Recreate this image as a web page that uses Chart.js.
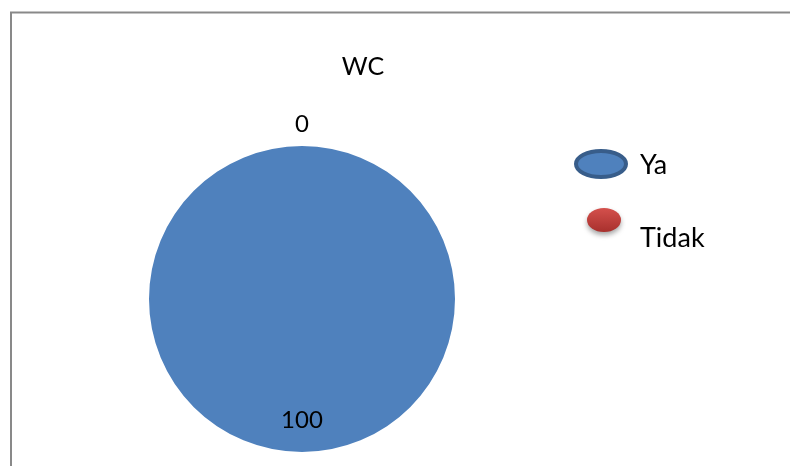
<!DOCTYPE html>
<html><head><meta charset="utf-8">
<script src="https://cdn.jsdelivr.net/npm/chart.js@4/dist/chart.umd.min.js"></script>
<style>html,body{margin:0;padding:0;background:#fff;overflow:hidden}#wrap{position:relative;width:790px;height:466px}</style>
</head><body><div id="wrap"><canvas id="c" width="790" height="466"></canvas></div>
<script>
const chartTitle = "WC";
const categories = ["Ya", "Tidak"];
const values = [100, 0];
const colors = ["#4F81BD", "#C0504D"];
const borderColors = ["#385D8A", "#8C3836"];
const FONT = "Lato, 'Open Sans', sans-serif";

const decor = {
  id: 'decor',
  beforeDraw(chart) {
    const ctx = chart.ctx;
    ctx.save();
    ctx.strokeStyle = '#898989';
    ctx.lineWidth = 2;
    ctx.beginPath();
    ctx.moveTo(11, 470); ctx.lineTo(11, 12.5); ctx.lineTo(800, 12.5);
    ctx.stroke();
    ctx.restore();
  },
  afterDraw(chart) {
    const ctx = chart.ctx;
    const meta = chart.getDatasetMeta(0);
    ctx.save();
    // title
    ctx.fillStyle = '#000';
    ctx.font = '25px ' + FONT;
    ctx.textAlign = 'center'; ctx.textBaseline = 'middle';
    ctx.fillText(chartTitle, 363, 67);
    // data labels
    ctx.font = '24px ' + FONT;
    meta.data.forEach((arc, i) => {
      const p = arc.getProps(['x','y','startAngle','endAngle','outerRadius'], true);
      const mid = (p.startAngle + p.endAngle) / 2;
      const r = values[i] === 0 ? p.outerRadius + 22 : p.outerRadius * 0.79;
      ctx.fillText(String(values[i]), p.x + Math.cos(mid) * r, p.y + Math.sin(mid) * r);
    });
    // legend
    const items = [{cx:601, cy:164, rx:25, ry:13, y:165}, {cx:604, cy:220, rx:17, ry:12, y:238}];
    categories.forEach((name, i) => {
      const it = items[i];
      ctx.save();
      if (i === 0) {
        ctx.fillStyle = colors[0];
        ctx.strokeStyle = borderColors[0];
        ctx.lineWidth = 4;
        ctx.beginPath(); ctx.ellipse(it.cx, it.cy, it.rx, it.ry, 0, 0, Math.PI*2);
        ctx.fill(); ctx.stroke();
      } else {
        ctx.shadowColor = 'rgba(0,0,0,0.35)';
        ctx.shadowBlur = 5; ctx.shadowOffsetY = 3;
        const g = ctx.createLinearGradient(0, it.cy - it.ry, 0, it.cy + it.ry);
        g.addColorStop(0, '#D4504C'); g.addColorStop(1, '#A8302D');
        ctx.fillStyle = g;
        ctx.beginPath(); ctx.ellipse(it.cx, it.cy, it.rx, it.ry, 0, 0, Math.PI*2);
        ctx.fill();
      }
      ctx.restore();
      ctx.fillStyle = '#000';
      ctx.font = '27px ' + FONT;
      ctx.textAlign = 'left'; ctx.textBaseline = 'middle';
      ctx.fillText(name, 640, it.y);
    });
    ctx.restore();
  }
};

new Chart(document.getElementById('c'), {
  type: 'pie',
  data: { labels: categories, datasets: [{ data: values, backgroundColor: colors, borderWidth: 0 }] },
  options: {
    responsive: false, animation: false,
    layout: { padding: { left: 149, right: 335, top: 146, bottom: 14 } },
    plugins: { legend: { display: false }, title: { display: false }, tooltip: { enabled: false } }
  },
  plugins: [decor]
});
</script></body></html>
